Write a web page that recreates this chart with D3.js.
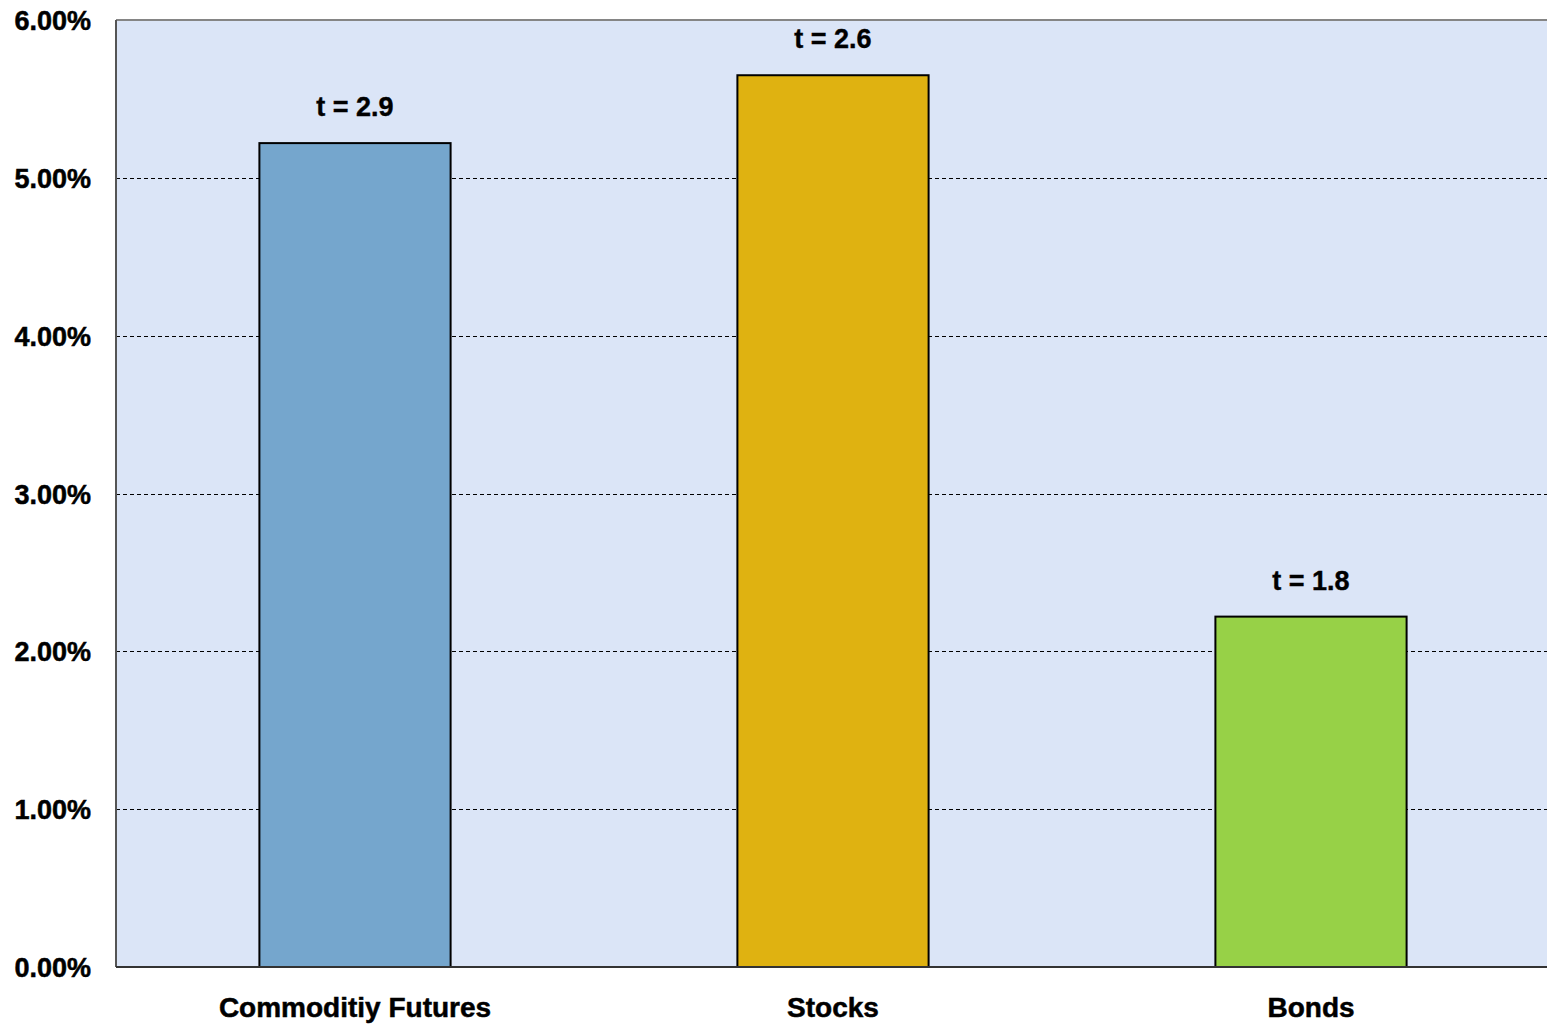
<!DOCTYPE html>
<html>
<head>
<meta charset="utf-8">
<script src="https://cdn.jsdelivr.net/npm/d3@7"></script>
<style>
  html, body { margin: 0; padding: 0; background: #ffffff; }
  svg { display: block; }
  text { font-family: "Liberation Sans", Arial, sans-serif; font-weight: bold; fill: #000; }
</style>
</head>
<body>
<svg id="chart" width="1547" height="1025"></svg>
<script>
// Average annual excess returns by asset class, with t-statistics
const categories = ["Commoditiy Futures", "Stocks", "Bonds"];
const returns = [5.22, 5.65, 2.22];          // percent
const tStats = ["t = 2.9", "t = 2.6", "t = 1.8"];
const barColors = ["#75a6cd", "#dfb211", "#97d147"];
const yTicks = [0, 1, 2, 3, 4, 5, 6];

const svg = d3.select("#chart");
const margin = { left: 116, top: 20, right: -3, bottom: 58 };
const W = 1547, H = 1025;
const x0 = margin.left, x1 = W - margin.right;
const yTop = margin.top, yBot = H - margin.bottom;

const x = d3.scaleBand()
  .domain(categories)
  .range([x0, x1])
  .paddingInner(0.6)
  .paddingOuter(0.3);

const y = d3.scaleLinear().domain([0, 6]).range([yBot, yTop]);

// plot background
svg.append("rect")
  .attr("x", x0).attr("y", yTop)
  .attr("width", x1 - x0).attr("height", yBot - yTop)
  .attr("fill", "#dbe5f7");

// dashed gridlines
svg.append("g")
  .selectAll("line")
  .data(yTicks.filter(d => d > 0 && d < 6))
  .join("line")
  .attr("x1", x0).attr("x2", x1)
  .attr("y1", d => Math.round(y(d)) + 0.5)
  .attr("y2", d => Math.round(y(d)) + 0.5)
  .attr("stroke", "#000")
  .attr("stroke-width", 1)
  .attr("stroke-dasharray", "4,3");

// plot frame: top and left in gray
svg.append("line")
  .attr("x1", x0).attr("x2", x1).attr("y1", yTop).attr("y2", yTop)
  .attr("stroke", "#858585").attr("stroke-width", 2);
svg.append("line")
  .attr("x1", x0).attr("x2", x0).attr("y1", yTop).attr("y2", yBot)
  .attr("stroke", "#555").attr("stroke-width", 2);

// bars
svg.append("g")
  .selectAll("rect")
  .data(categories)
  .join("rect")
  .attr("x", d => x(d))
  .attr("y", (d, i) => y(returns[i]))
  .attr("width", x.bandwidth())
  .attr("height", (d, i) => y(0) - y(returns[i]))
  .attr("fill", (d, i) => barColors[i])
  .attr("stroke", "#000")
  .attr("stroke-width", 2);

// baseline axis
svg.append("line")
  .attr("x1", x0).attr("x2", x1).attr("y1", yBot).attr("y2", yBot)
  .attr("stroke", "#333").attr("stroke-width", 2);

// t-statistic labels above bars
svg.append("g")
  .selectAll("text")
  .data(categories)
  .join("text")
  .attr("x", d => x(d) + x.bandwidth() / 2)
  .attr("y", (d, i) => y(returns[i]) - 27)
  .attr("text-anchor", "middle")
  .attr("font-size", 27)
  .attr("stroke", "#000").attr("stroke-width", 0.4)
  .text((d, i) => tStats[i]);

// y axis labels
const yAxis = d3.axisLeft(y)
  .tickValues(yTicks)
  .tickSize(0)
  .tickPadding(25)
  .tickFormat(d => d3.format(".2f")(d) + "%");
const gy = svg.append("g").attr("transform", `translate(${x0},1)`).call(yAxis);
gy.select(".domain").remove();
gy.selectAll("text")
  .attr("font-size", 27)
  .attr("font-family", "'Liberation Sans', Arial, sans-serif")
  .attr("font-weight", "bold")
  .attr("fill", "#000")
  .attr("stroke", "#000").attr("stroke-width", 0.5);

// category labels
const xAxis = d3.axisBottom(x).tickSize(0).tickPadding(30);
const gx = svg.append("g").attr("transform", `translate(0,${yBot})`).call(xAxis);
gx.select(".domain").remove();
gx.selectAll("text")
  .attr("font-size", 28)
  .attr("font-family", "'Liberation Sans', Arial, sans-serif")
  .attr("font-weight", "bold")
  .attr("fill", "#000")
  .attr("stroke", "#000").attr("stroke-width", 0.5);
</script>
</body>
</html>
